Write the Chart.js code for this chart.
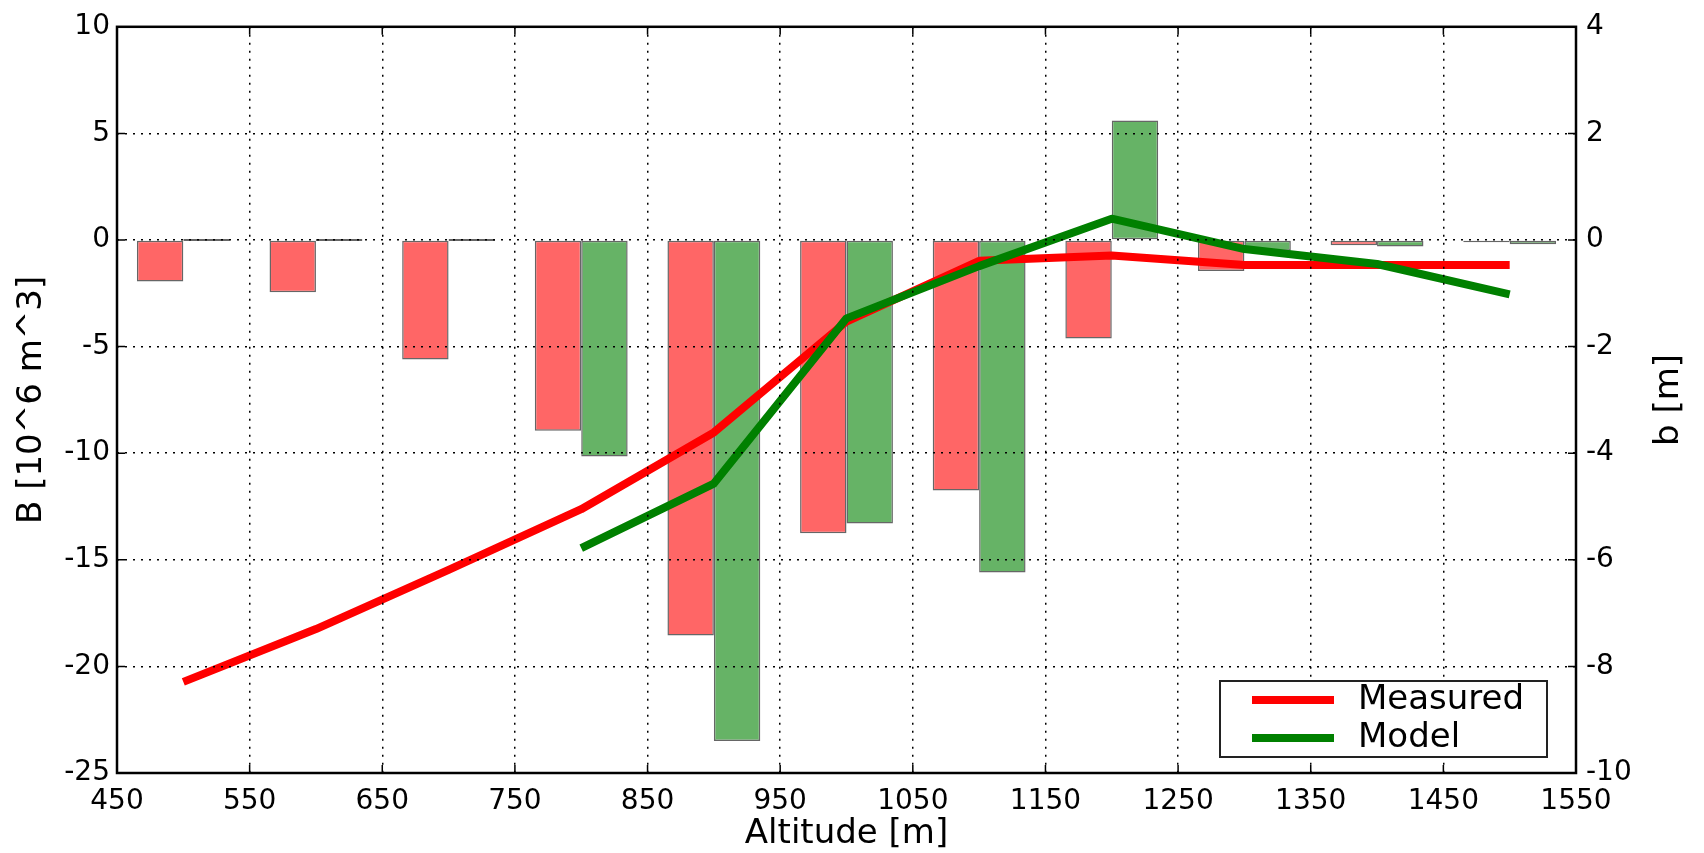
<!DOCTYPE html>
<html>
<head>
<meta charset="utf-8">
<script src="https://cdn.jsdelivr.net/npm/chart.js@4/dist/chart.umd.min.js"></script>
<style>
  html, body { margin: 0; padding: 0; background: #fff; }
  #wrap { width: 1704px; height: 853px; }
</style>
</head>
<body>
<div id="wrap"><canvas id="massChart" width="1704" height="853"></canvas></div>
<script>
// altitude bands [m]
const altitude = [500, 600, 700, 800, 900, 1000, 1100, 1200, 1300, 1400, 1500];

// volume change per band B [10^6 m^3]
const volumeMeasured = [-1.95, -2.45, -5.6, -8.95, -18.55, -13.75, -11.75, -4.62, -1.45, -0.25, -0.1];
const volumeModel    = [0, 0, 0, -10.15, -23.5, -13.3, -15.6, 5.6, -0.5, -0.3, -0.2];

// specific balance b [m]
const balanceMeasured = [-8.29, -7.3, -6.19, -5.05, -3.61, -1.53, -0.39, -0.29, -0.47, -0.47, -0.47];
const balanceModel    = [null, null, null, -5.78, -4.57, -1.47, -0.49, 0.4, -0.17, -0.45, -1.02];

// axis ticks
const altitudeTicks = [450, 550, 650, 750, 850, 950, 1050, 1150, 1250, 1350, 1450, 1550];
const volumeTicks = [-25, -20, -15, -10, -5, 0, 5, 10];
const balanceTicks = [-10, -8, -6, -4, -2, 0, 2, 4];

const FONT = 'DejaVu Sans';
const pts = (ys) => altitude.map((x, i) => ({ x, y: ys[i] }));
const setTicks = (vals) => (scale) => { scale.ticks = vals.map(v => ({ value: v })); };
// dotted grid drawn on top of the bars
const dotted = { color: '#000', lineWidth: 1.5, drawTicks: false, z: 1 };
const dottedBorder = { display: false, dash: [2, 6] };

// box, inward ticks, right-hand title and the line legend
const framePlugin = {
  id: 'frame',
  afterDraw(chart) {
    const { ctx, chartArea: a, scales } = chart;
    const tl = 8;
    ctx.save();
    ctx.strokeStyle = '#000';
    ctx.lineWidth = 1.5;
    ctx.beginPath();
    altitudeTicks.forEach(v => {
      const px = scales.x.getPixelForValue(v);
      ctx.moveTo(px, a.bottom); ctx.lineTo(px, a.bottom - tl);
      ctx.moveTo(px, a.top); ctx.lineTo(px, a.top + tl);
    });
    volumeTicks.forEach(v => {
      const py = scales.y.getPixelForValue(v);
      ctx.moveTo(a.left, py); ctx.lineTo(a.left + tl, py);
    });
    balanceTicks.forEach(v => {
      const py = scales.y1.getPixelForValue(v);
      ctx.moveTo(a.right, py); ctx.lineTo(a.right - tl, py);
    });
    ctx.stroke();

    ctx.lineWidth = 2.5;
    ctx.strokeRect(a.left, a.top, a.right - a.left, a.bottom - a.top);

    // b [m] reads bottom to top like the left title
    ctx.fillStyle = '#000';
    ctx.font = '34px "' + FONT + '"';
    ctx.textAlign = 'center';
    ctx.textBaseline = 'middle';
    ctx.translate(1669, (a.top + a.bottom) / 2);
    ctx.rotate(-Math.PI / 2);
    ctx.fillText('b [m]', 0, 0);
    ctx.setTransform(1, 0, 0, 1, 0, 0);

    // legend for the two balance curves
    const lines = ['Measured', 'Model'].map(l => chart.data.datasets.find(d => d.label === l));
    const bw = 327, bh = 76;
    const bx = a.right - 29 - bw, by = a.bottom - 16 - bh;
    ctx.fillStyle = '#fff';
    ctx.fillRect(bx, by, bw, bh);
    ctx.strokeStyle = '#222';
    ctx.lineWidth = 2;
    ctx.strokeRect(bx, by, bw, bh);
    ctx.textAlign = 'left';
    lines.forEach((d, i) => {
      const ry = by + 19 + i * 38;
      ctx.strokeStyle = d.borderColor;
      ctx.lineWidth = 8;
      ctx.beginPath();
      ctx.moveTo(bx + 32, ry); ctx.lineTo(bx + 114, ry);
      ctx.stroke();
      ctx.fillStyle = '#000';
      ctx.fillText(d.label, bx + 138, ry);
    });
    ctx.restore();
  }
};

new Chart(document.getElementById('massChart'), {
  type: 'line',
  data: {
    datasets: [
      { type: 'line', label: 'Model', data: pts(balanceModel), yAxisID: 'y1',
        borderColor: '#008000', borderWidth: 8, pointRadius: 0, borderJoinStyle: 'round', spanGaps: false },
      { type: 'line', label: 'Measured', data: pts(balanceMeasured), yAxisID: 'y1',
        borderColor: '#ff0000', borderWidth: 8, pointRadius: 0, borderJoinStyle: 'round' },
      { type: 'bar', label: 'B measured', data: pts(volumeMeasured), yAxisID: 'y',
        backgroundColor: '#ff6666', borderColor: 'rgba(0,0,0,0.6)', borderWidth: 1.5, borderSkipped: false,
        categoryPercentage: 0.7, barPercentage: 1.0 },
      { type: 'bar', label: 'B model', data: pts(volumeModel), yAxisID: 'y',
        backgroundColor: '#66b366', borderColor: 'rgba(0,0,0,0.6)', borderWidth: 1.5, borderSkipped: false,
        categoryPercentage: 0.7, barPercentage: 1.0, minBarLength: 2 }
    ]
  },
  options: {
    responsive: false,
    animation: false,
    devicePixelRatio: 1,
    layout: { padding: { top: 22, left: 0, right: 0, bottom: 0 } },
    plugins: { legend: { display: false }, tooltip: { enabled: false } },
    scales: {
      x: {
        type: 'linear', min: 450, max: 1550, offset: false,
        afterBuildTicks: setTicks(altitudeTicks),
        afterFit: (s) => { s.height = 80; },
        grid: { ...dotted, offset: false },
        border: dottedBorder,
        ticks: { color: '#000', padding: 12, maxRotation: 0, autoSkip: false, font: { family: FONT, size: 28 },
                 callback: (v) => String(v) },
        title: { display: true, text: 'Altitude [m]', color: '#000', padding: 0,
                 font: { family: FONT, size: 34, lineHeight: 1.1 } }
      },
      y: {
        type: 'linear', position: 'left', min: -25, max: 10,
        afterBuildTicks: setTicks(volumeTicks),
        afterFit: (s) => { s.width = 117; },
        grid: dotted,
        border: dottedBorder,
        ticks: { color: '#000', padding: 7, font: { family: FONT, size: 28 }, callback: (v) => String(v) },
        title: { display: true, text: 'B [10^6 m^3]', color: '#000', padding: { top: 13, bottom: 0 },
                 font: { family: FONT, size: 34, lineHeight: 1.1 } }
      },
      y1: {
        type: 'linear', position: 'right', min: -10, max: 4,
        afterBuildTicks: setTicks(balanceTicks),
        afterFit: (s) => { s.width = 128; },
        grid: { display: false, drawTicks: false },
        border: { display: false },
        ticks: { color: '#000', padding: 10, font: { family: FONT, size: 28 }, callback: (v) => String(v) }
      }
    }
  },
  plugins: [framePlugin]
});
</script>
</body>
</html>
